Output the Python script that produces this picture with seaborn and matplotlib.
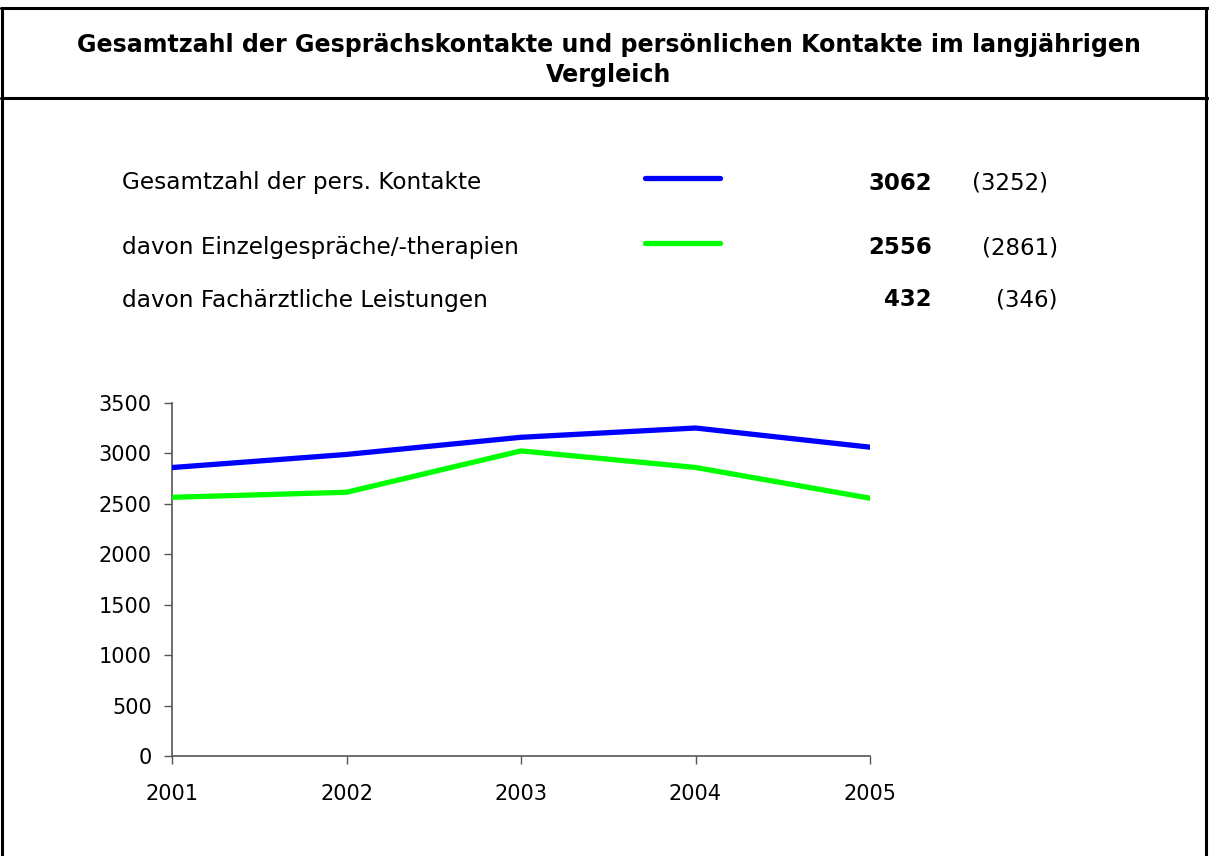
import pandas as pd
import seaborn as sns
import matplotlib.pyplot as plt
from matplotlib.lines import Line2D

# data
years = [2001, 2002, 2003, 2004, 2005]
gesamt = [2860, 2990, 3160, 3252, 3062]
einzel = [2565, 2615, 3025, 2861, 2556]
series_names = ['Gesamtzahl der pers. Kontakte', 'davon Einzelgespräche/-therapien']
legend_rows = ['Gesamtzahl der pers. Kontakte', 'davon Einzelgespräche/-therapien',
               'davon Fachärztliche Leistungen']
current_vals = ['3062', '2556', '432']
previous_vals = ['(3252)', '(2861)', '(346)']
y_ticks = [0, 500, 1000, 1500, 2000, 2500, 3000, 3500]

W, H = 1209, 856


def fx(px):
    return px / W


def fy(py):
    return 1 - py / H


df = pd.DataFrame({
    'Jahr': years * 2,
    'Kontakte': gesamt + einzel,
    'Reihe': [series_names[0]] * 5 + [series_names[1]] * 5,
})

sns.set_style('white')
plt.rcParams['font.family'] = ['DejaVu Sans']
plt.rcParams['text.color'] = 'black'

fig = plt.figure(figsize=(W / 100, H / 100), dpi=100)
ax = fig.add_axes([fx(172), fy(756), fx(870) - fx(172), fy(403) - fy(756)])

palette = {series_names[0]: '#0000ff', series_names[1]: '#00ff00'}
sns.lineplot(data=df, x='Jahr', y='Kontakte', hue='Reihe', palette=palette,
             linewidth=3.8, legend=False, ax=ax, zorder=3)

ax.set_xlim(2001, 2005)
ax.set_ylim(0, 3500)
ax.set_xticks(years)
ax.set_yticks(y_ticks)
ax.set_xlabel('')
ax.set_ylabel('')
for s in ['top', 'right']:
    ax.spines[s].set_visible(False)
for s in ['left', 'bottom']:
    ax.spines[s].set_color('#555555')
    ax.spines[s].set_linewidth(1.2)
ax.tick_params(axis='both', which='major', direction='out', length=6,
               width=1, color='#555555', labelsize=15, labelcolor='black',
               left=True, bottom=True)
ax.tick_params(axis='x', pad=14)
ax.tick_params(axis='y', pad=8.5)

# frame lines around the chart
for (x0, y0, x1, y1) in [(2, 8, 2, 856), (1, 8, 1208, 8), (1206, 8, 1206, 856), (1, 98, 1208, 98)]:
    fig.add_artist(Line2D([fx(x0), fx(x1)], [fy(y0), fy(y1)], color='black',
                          linewidth=2.2, transform=fig.transFigure))

# title
fig.text(fx(609), fy(45), 'Gesamtzahl der Gesprächskontakte und persönlichen Kontakte im langjährigen',
         ha='center', va='center', fontsize=17.1, fontweight='bold')
fig.text(fx(609), fy(75), 'Vergleich', ha='center', va='center', fontsize=17.1, fontweight='bold')

# text legend
row_y = [183, 248, 300]
line_colors = ['#0000ff', '#00ff00', None]
prev_right = [1048, 1058, 1058]
for i, label in enumerate(legend_rows):
    fig.text(fx(122), fy(row_y[i]), label, ha='left', va='center', fontsize=16.7)
    if line_colors[i]:
        fig.add_artist(Line2D([fx(645), fx(720)], [fy(row_y[i] - 5), fy(row_y[i] - 5)],
                              color=line_colors[i], linewidth=3.8, transform=fig.transFigure))
    fig.text(fx(932), fy(row_y[i]), current_vals[i], ha='right', va='center',
             fontsize=16.5, fontweight='bold')
    fig.text(fx(prev_right[i]), fy(row_y[i]), previous_vals[i], ha='right', va='center',
             fontsize=16.5)

fig.savefig('out.png', dpi=100)
